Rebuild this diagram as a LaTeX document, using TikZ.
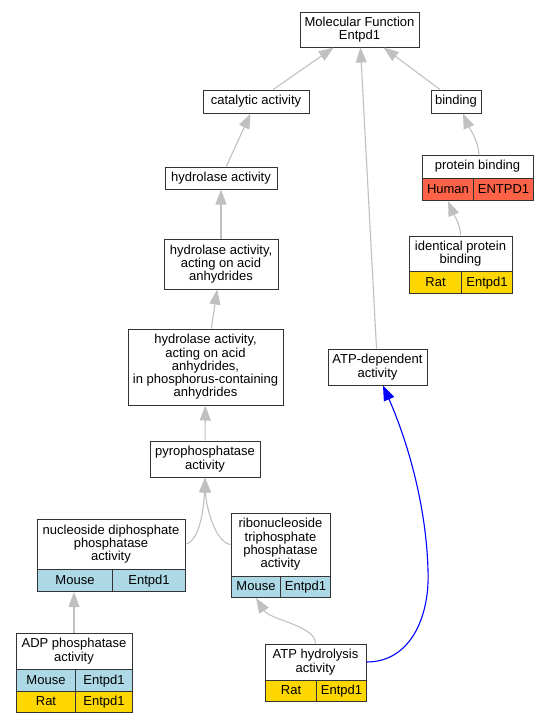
\documentclass[tikz,border=0pt]{standalone}
\usepackage{fontspec}
\setmainfont{Liberation Sans}
\usetikzlibrary{arrows.meta}
\definecolor{mouse}{HTML}{ADD8E6}
\definecolor{rat}{HTML}{FFD700}
\definecolor{human}{HTML}{FF6347}
\definecolor{edgegray}{HTML}{C0C0C0}
\tikzset{
	term/.style={draw=black!80, line width=1pt, fill=white, align=center, inner sep=0pt, font=\fontsize{13}{13.3}\selectfont},
	cell/.style={term, anchor=north west, text height=9.5pt, text depth=2.5pt},
	edge/.style={draw=edgegray, line width=1.1pt, -{Triangle[length=15pt,width=11pt]}},
}

\begin{document}
\begin{tikzpicture}[x=1pt, y=-1pt]
			%%%%% FRAME %%%%%
			\useasboundingbox (0,0) rectangle (548,723);
			
			%%%%% TERMS %%%%%
			\node[term, minimum width=119, minimum height=35] (mf) at (359.5,29.5) {Molecular Function\\Entpd1};
			\node[term, minimum width=106, minimum height=23] (cat) at (256,101.5) {catalytic activity};
			\node[term, minimum width=50, minimum height=23] (bind) at (456,101.5) {binding};
			\node[term, minimum width=112, minimum height=22] (hyd) at (221,178) {hydrolase activity};
			
			\node[term, minimum width=111, minimum height=23] (pb) at (477.5,166.5) {protein binding};
			\node[cell, fill=human, minimum width=51, minimum height=22] (pbHuman) at (422,178) {Human};
			\node[cell, fill=human, minimum width=60, minimum height=22] (pbEnt) at (473,178) {ENTPD1};
			
			\node[term, minimum width=103, minimum height=35] (idp) at (460.5,253.5) {identical protein\\binding};
			\node[cell, fill=rat, minimum width=52, minimum height=22] (idpRat) at (409,271) {Rat};
			\node[cell, fill=rat, minimum width=51, minimum height=22] (idpEnt) at (461,271) {Entpd1};
			
			\node[term, minimum width=114, minimum height=50] (acid) at (221,264) {hydrolase activity,\\acting on acid\\anhydrides};
			\node[term, minimum width=155, minimum height=76] (phos) at (205.5,367) {hydrolase activity,\\acting on acid\\anhydrides,\\in phosphorus-containing\\anhydrides};
			\node[term, minimum width=99, minimum height=36] (atpdep) at (377.5,367) {ATP-dependent\\activity};
			\node[term, minimum width=110, minimum height=36] (pyro) at (205,459) {pyrophosphatase\\activity};
			
			\node[term, minimum width=148, minimum height=50] (ndp) at (111,544) {nucleoside diphosphate\\phosphatase\\activity};
			\node[cell, fill=mouse, minimum width=75, minimum height=22] (ndpMouse) at (37,569) {Mouse};
			\node[cell, fill=mouse, minimum width=73, minimum height=22] (ndpEnt) at (112,569) {Entpd1};
			
			\node[term, minimum width=99, minimum height=63] (ribo) at (280.5,544.5) {ribonucleoside\\triphosphate\\phosphatase\\activity};
			\node[cell, fill=mouse, minimum width=49, minimum height=21] (riboMouse) at (231,576) {Mouse};
			\node[cell, fill=mouse, minimum width=50, minimum height=21] (riboEnt) at (280,576) {Entpd1};
			
			\node[term, minimum width=116, minimum height=36] (adp) at (74,651) {ADP phosphatase\\activity};
			\node[cell, fill=mouse, minimum width=59, minimum height=22] (adpMouse) at (16,669) {Mouse};
			\node[cell, fill=mouse, minimum width=57, minimum height=22] (adpEntM) at (75,669) {Entpd1};
			\node[cell, fill=rat, minimum width=59, minimum height=21] (adpRat) at (16,691) {Rat};
			\node[cell, fill=rat, minimum width=57, minimum height=21] (adpEntR) at (75,691) {Entpd1};
			
			\node[term, minimum width=101, minimum height=36] (atph) at (315.5,662) {ATP hydrolysis\\activity};
			\node[cell, fill=rat, minimum width=51, minimum height=21] (atphRat) at (265,680) {Rat};
			\node[cell, fill=rat, minimum width=50, minimum height=21] (atphEnt) at (316,680) {Entpd1};
			
			%%%%% EDGES %%%%%
			\draw[edge] (cat) -- (mf);
			\draw[edge] (bind) -- (mf);
			\draw[edge] (atpdep) -- (mf);
			\draw[edge] (hyd) -- (cat);
			\draw[edge] (acid) -- (hyd);
			\draw[edge] (phos) -- (acid);
			\draw[edge] (pyro) -- (phos);
			\draw[edge] ([xshift=1.5pt]pb.north) .. controls +(-1,-15) and +(6,14) .. ([xshift=7pt]bind.south);
			\draw[edge] (idp.north) .. controls +(0,-12) and +(5,12) .. (pbHuman.south);
			\draw[edge] (ndp.east) .. controls +(14,-2) and +(-1,30) .. (pyro.south);
			\draw[edge] (ribo.west) .. controls +(-15,-2) and +(1,30) .. (pyro.south);
			\draw[edge] (atph.north) .. controls +(0,-18) and +(14,22) .. (riboMouse.south);
			\draw[edge] (adp.north) -- (adp.north |- ndpMouse.south);
			
			\coordinate (bend) at (428,570);
			\draw[edge, draw=blue, -{Triangle[length=15pt,width=11pt,fill=blue]}] (atph.east) .. controls +(45,0) and +(2,45) .. (bend) .. controls +(-2,-70) and +(22,50) .. ([xshift=5.5pt]atpdep.south);
			
			%%%%% END %%%%%
\end{tikzpicture}
\end{document}
